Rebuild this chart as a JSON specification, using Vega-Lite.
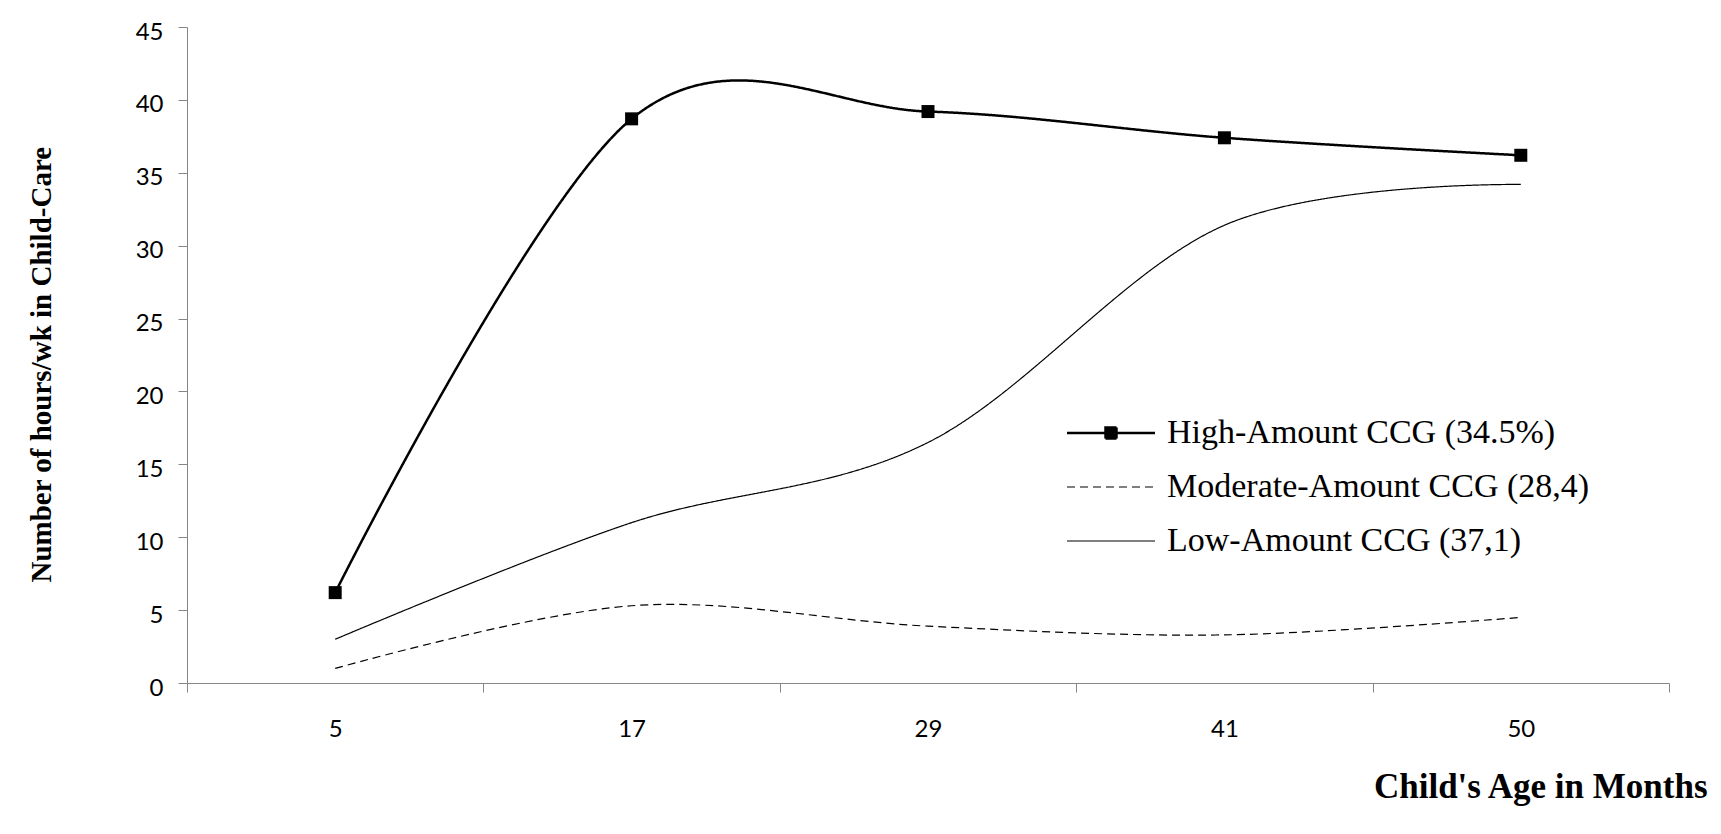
{
  "$schema": "https://vega.github.io/schema/vega-lite/v6.json",
  "width": 1482,
  "height": 656,
  "autosize": {"type": "none"},
  "padding": {"left": 187, "top": 27, "right": 52, "bottom": 151},
  "background": "white",
  "config": {"view": {"stroke": null}, "font": "Liberation Serif"},
  "data": {
    "values": [
      {"age": 5, "hours": 6.2, "group": "High-Amount CCG (34.5%)"},
      {"age": 17, "hours": 38.7, "group": "High-Amount CCG (34.5%)"},
      {"age": 29, "hours": 39.2, "group": "High-Amount CCG (34.5%)"},
      {"age": 41, "hours": 37.4, "group": "High-Amount CCG (34.5%)"},
      {"age": 50, "hours": 36.2, "group": "High-Amount CCG (34.5%)"},
      {"age": 5, "hours": 1.0, "group": "Moderate-Amount CCG (28,4)"},
      {"age": 17, "hours": 5.3, "group": "Moderate-Amount CCG (28,4)"},
      {"age": 29, "hours": 3.9, "group": "Moderate-Amount CCG (28,4)"},
      {"age": 41, "hours": 3.3, "group": "Moderate-Amount CCG (28,4)"},
      {"age": 50, "hours": 4.5, "group": "Moderate-Amount CCG (28,4)"},
      {"age": 5, "hours": 3.0, "group": "Low-Amount CCG (37,1)"},
      {"age": 17, "hours": 11.0, "group": "Low-Amount CCG (37,1)"},
      {"age": 29, "hours": 16.5, "group": "Low-Amount CCG (37,1)"},
      {"age": 41, "hours": 31.4, "group": "Low-Amount CCG (37,1)"},
      {"age": 50, "hours": 34.2, "group": "Low-Amount CCG (37,1)"}
    ]
  },
  "encoding": {
    "x": {
      "field": "age",
      "type": "ordinal",
      "bandPosition": 0.5,
      "scale": {"type": "band", "paddingInner": 0, "paddingOuter": 0},
      "axis": {
        "labelAngle": 0,
        "tickBand": "extent",
        "domainColor": "#868686",
        "tickColor": "#868686",
        "tickSize": 9,
        "labelFont": "Lato",
        "labelFontSize": 24,
        "labelColor": "black",
        "labelPadding": 25,
        "title": "Child's Age in Months",
        "titleFont": "Liberation Serif",
        "titleFontSize": 35,
        "titleFontWeight": "bold",
        "titleColor": "black",
        "titleAlign": "right",
        "titleBaseline": "alphabetic",
        "titleX": 1520,
        "titleY": 114
      }
    },
    "y": {
      "field": "hours",
      "type": "quantitative",
      "scale": {"domain": [0, 45], "nice": false},
      "axis": {
        "values": [0, 5, 10, 15, 20, 25, 30, 35, 40, 45],
        "grid": false,
        "domainColor": "#868686",
        "tickColor": "#868686",
        "tickSize": 9,
        "labelFont": "Lato",
        "labelFontSize": 24,
        "labelColor": "black",
        "labelPadding": 15,
        "labelBaseline": "middle",
        "labelOffset": 5,
        "title": "Number of hours/wk in Child-Care",
        "titleFont": "Liberation Serif",
        "titleFontSize": 29,
        "titleFontWeight": "bold",
        "titleColor": "black",
        "titleAngle": 270,
        "titleAlign": "left",
        "titleBaseline": "alphabetic",
        "titleX": -137,
        "titleY": 555
      }
    }
  },
  "layer": [
    {
      "mark": {"type": "line", "interpolate": "cardinal", "tension": 0},
      "encoding": {
        "color": {
          "field": "group",
          "type": "nominal",
          "scale": {
            "domain": ["High-Amount CCG (34.5%)", "Moderate-Amount CCG (28,4)", "Low-Amount CCG (37,1)"],
            "range": ["black", "black", "black"]
          },
          "legend": {
            "title": null,
            "orient": "none",
            "legendX": 907,
            "legendY": 389,
            "padding": 0,
            "labelFont": "Liberation Serif",
            "labelFontSize": 34,
            "labelColor": "black",
            "labelLimit": 0,
            "labelOffset": 39,
            "rowPadding": 20,
            "symbolSize": 400,
            "symbolType": "M-4.4,0H4.4",
            "encode": {
              "symbols": {
                "update": {
                  "shape": {"signal": "datum.value === 'High-Amount CCG (34.5%)' ? 'M-4.4,0H4.4M-0.55,-0.55H0.55V0.55H-0.55Z' : 'M-4.4,0H4.4'"},
                  "fill": {"signal": "datum.value === 'High-Amount CCG (34.5%)' ? 'black' : 'transparent'"},
                  "stroke": {"value": "black"},
                  "strokeWidth": {"signal": "datum.value === 'High-Amount CCG (34.5%)' ? 2.5 : 1.2"},
                  "strokeDash": {"signal": "datum.value === 'Moderate-Amount CCG (28,4)' ? [8, 5] : [1, 0]"}
                }
              }
            }
          }
        },
        "strokeDash": {
          "field": "group",
          "type": "nominal",
          "scale": {
            "domain": ["High-Amount CCG (34.5%)", "Moderate-Amount CCG (28,4)", "Low-Amount CCG (37,1)"],
            "range": [[1, 0], [8, 5], [1, 0]]
          },
          "legend": null
        },
        "strokeWidth": {
          "condition": {"test": "datum.group === 'High-Amount CCG (34.5%)'", "value": 2.5},
          "value": 1.2
        }
      }
    },
    {
      "transform": [{"filter": "datum.group === 'High-Amount CCG (34.5%)'"}],
      "mark": {"type": "point", "shape": "square", "filled": true, "size": 169, "color": "black", "opacity": 1}
    }
  ]
}
